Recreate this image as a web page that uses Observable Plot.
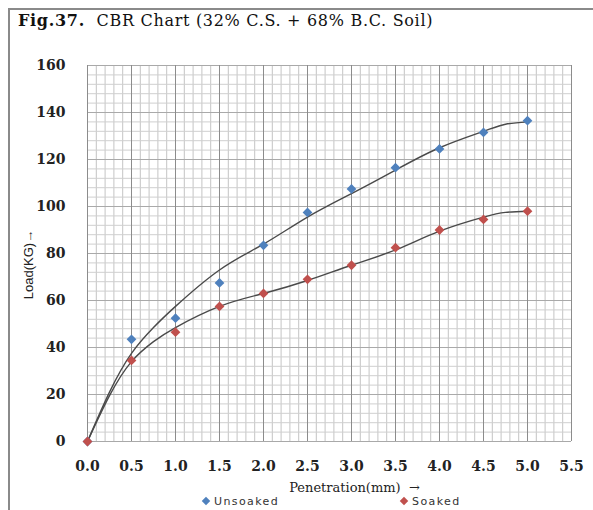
<!DOCTYPE html>
<html>
<head>
<meta charset="utf-8">
<script src="https://cdn.jsdelivr.net/npm/d3@7"></script>
<script src="https://cdn.jsdelivr.net/npm/@observablehq/plot@0.6"></script>
<style>
  html, body { margin: 0; padding: 0; background: #fff; }
  #frame { position: absolute; left: 8px; top: 8px; width: 600px; height: 520px;
           border-left: 2px solid #8a8a8a; border-top: 2px solid #8a8a8a; }
  #title { position: absolute; left: 18px; top: 11px; font-family: "DejaVu Serif", serif;
           font-size: 16px; letter-spacing: 0.7px; color: #111; white-space: nowrap; }
  #chart { position: absolute; left: 0; top: 40px; }
  #legend { position: absolute; top: 496px; left: 0; width: 593px; height: 13px;
            font-family: "DejaVu Sans", sans-serif; font-size: 11px; line-height: 12px; color: #333; }
  .li { position: absolute; top: 0; white-space: nowrap; letter-spacing: 1.4px; }
  .sw { display: inline-block; width: 6px; height: 6px; transform: rotate(45deg); margin-right: 5px; vertical-align: 1px; }
</style>
</head>
<body>
<div id="frame"></div>
<div id="title"><b>Fig.37.</b>&nbsp; CBR Chart (32% C.S. + 68% B.C. Soil)</div>
<div id="chart"></div>
<div id="legend">
  <span class="li" style="left:203px"><span class="sw" style="background:#4f81bd"></span>Unsoaked</span>
  <span class="li" style="left:401px"><span class="sw" style="background:#c0504d"></span>Soaked</span>
</div>
<script>
// Data
const penetration = [0, 0.5, 1.0, 1.5, 2.0, 2.5, 3.0, 3.5, 4.0, 4.5, 5.0];
const unsoaked    = [0, 43.5, 52.5, 67.5, 83.5, 97.5, 107.5, 116.5, 124.5, 131.5, 136.5];
const soaked      = [0, 34.5, 46.5, 57.5, 63, 69, 75, 82.5, 90, 94.5, 98];

// Trend curves
const trendX        = [0, 0.25, 0.5, 0.75, 1.0, 1.5, 2.0, 2.5, 3.0, 3.5, 4.0, 4.5, 4.75, 5.0];
const trendUnsoaked = [0, 21, 37.5, 48.5, 57.5, 73, 84, 95.5, 105.5, 115.5, 125, 132, 135, 136];
const trendSoaked   = [0, 19.5, 34, 42.5, 48.5, 57.5, 63, 68.5, 75, 81.5, 89.5, 95.5, 97.5, 98];

const xTicks = [0, 0.5, 1.0, 1.5, 2.0, 2.5, 3.0, 3.5, 4.0, 4.5, 5.0, 5.5];
const yTicks = [0, 20, 40, 60, 80, 100, 120, 140, 160];

const pts = penetration.flatMap((x, i) => [
  {x, y: unsoaked[i], s: "Unsoaked"},
  {x, y: soaked[i], s: "Soaked"}
]);
const tU = trendX.map((x, i) => ({x, y: trendUnsoaked[i]}));
const tS = trendX.map((x, i) => ({x, y: trendSoaked[i]}));

const minorX = d3.range(0, 56).map(i => i / 10);
const minorY = d3.range(0, 41).map(i => i * 4);

const chart = Plot.plot({
  width: 593,
  height: 460,
  marginLeft: 87,
  marginRight: 22,
  marginTop: 25,
  marginBottom: 59,
  x: {domain: [0, 5.5]},
  y: {domain: [0, 160]},
  style: {background: "transparent"},
  marks: [
    Plot.ruleX(minorX, {stroke: "#c4c4c4", strokeWidth: 1, y1: 0, y2: 160}),
    Plot.ruleY(minorY, {stroke: "#cfcfcf", strokeWidth: 1, x1: 0, x2: 5.5}),
    Plot.ruleY(yTicks, {stroke: "#a9a9a9", strokeWidth: 1, x1: 0, x2: 5.5}),
    Plot.ruleX(xTicks, {stroke: "#8c8c8c", strokeWidth: 1, y1: 0, y2: 160}),
    Plot.line(tU, {x: "x", y: "y", curve: "natural", stroke: "#4a4a4a", strokeWidth: 1.4}),
    Plot.line(tS, {x: "x", y: "y", curve: "natural", stroke: "#4a4a4a", strokeWidth: 1.4}),
    Plot.dot(pts, {x: "x", y: "y", symbol: "diamond2", r: 4.4,
      fill: d => d.s === "Unsoaked" ? "#4f81bd" : "#c0504d", stroke: "none"}),
    Plot.axisX(xTicks, {tickSize: 0, tickPadding: 20, tickFormat: d3.format(".1f"),
      fontFamily: "DejaVu Serif", fontWeight: "bold", fontSize: 14, fill: "#222",
      label: null}),
    Plot.axisY(yTicks, {tickSize: 0, tickPadding: 22,
      fontFamily: "DejaVu Serif", fontWeight: "bold", fontSize: 14, fill: "#222",
      label: null}),
    Plot.text(["Penetration(mm)\u00a0 \u2192"], {frameAnchor: "bottom", dy: 50, dx: 25,
      textAnchor: "middle",
      fontFamily: "DejaVu Serif", fontSize: 13, fill: "#222"}),
    Plot.text(["Load(KG)\u2192"], {frameAnchor: "left", dx: -59, dy: 11, rotate: -90,
      textAnchor: "middle",
      fontFamily: "Liberation Sans Narrow, Liberation Sans", fontSize: 13, fill: "#222"})
  ]
});
document.getElementById("chart").appendChild(chart);
</script>
</body>
</html>
